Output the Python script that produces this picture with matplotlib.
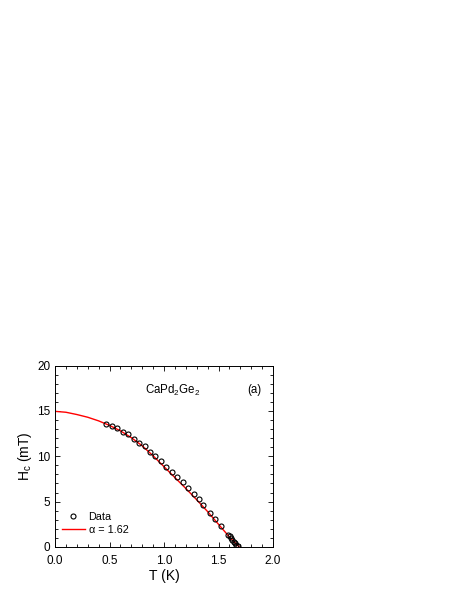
import numpy as np
import matplotlib
matplotlib.use('Agg')
import matplotlib.pyplot as plt
from matplotlib.ticker import MultipleLocator

# measured critical field
T_data = [0.465, 0.52, 0.569, 0.621, 0.673, 0.722, 0.772, 0.822, 0.872, 0.920,
          0.972, 1.021, 1.073, 1.122, 1.174, 1.223, 1.272, 1.321, 1.361, 1.422,
          1.468, 1.523, 1.590, 1.603, 1.615, 1.627, 1.639, 1.651, 1.664, 1.676]
Hc_data = [13.56, 13.35, 13.09, 12.72, 12.43, 11.91, 11.45, 11.1, 10.52, 10.04,
           9.45, 8.86, 8.31, 7.76, 7.14, 6.51, 5.85, 5.27, 4.67, 3.71,
           3.05, 2.35, 1.36, 1.17, 0.95, 0.77, 0.58, 0.40, 0.22, 0.07]

# fit curve
T_fit = [0.0, 0.1, 0.2, 0.3, 0.4, 0.5, 0.6, 0.7, 0.8, 0.9, 1.0, 1.1, 1.2, 1.3,
         1.4, 1.5, 1.6, 1.69]
Hc_fit = [14.95, 14.85, 14.6, 14.3, 13.9, 13.4, 12.8, 12.05, 11.15, 10.05, 8.85,
          7.65, 6.45, 5.2, 3.9, 2.5, 1.1, 0.0]

plt.rcParams['font.family'] = ['Liberation Sans', 'DejaVu Sans']
plt.rcParams['mathtext.fontset'] = 'custom'
plt.rcParams['mathtext.rm'] = 'Liberation Sans'
plt.rcParams['mathtext.it'] = 'Liberation Sans:italic'

fig = plt.figure(figsize=(4.57, 5.91), dpi=100)
ax = fig.add_axes([0.1204, 0.0745, 0.477, 0.307])

ax.plot(T_fit, Hc_fit, color='red', lw=1.0, label=r'α = 1.62', zorder=2)
ax.plot(T_data, Hc_data, 'o', mfc='none', mec='black', ms=3.6, mew=0.8,
        label='Data', zorder=3)

ax.set_xlim(0, 2.0)
ax.set_ylim(0, 20)
ax.xaxis.set_major_locator(MultipleLocator(0.5))
ax.xaxis.set_minor_locator(MultipleLocator(0.1))
ax.yaxis.set_major_locator(MultipleLocator(5))
ax.yaxis.set_minor_locator(MultipleLocator(1))
ax.tick_params(which='both', direction='in', top=True, right=True, labelsize=8.5, width=0.6)
ax.tick_params(which='major', length=3.5)
ax.tick_params(which='minor', length=2)
ax.tick_params(axis='x', which='major', pad=5.5)
ax.tick_params(axis='y', which='major', pad=3.5)
for s in ax.spines.values():
    s.set_linewidth(0.7)

ax.set_xlabel('T (K)', fontsize=10, labelpad=2)
ax.set_ylabel(r'H$_\mathrm{c}$ (mT)', fontsize=10, labelpad=2)

ax.text(0.54, 0.865, r'CaPd$_2$Ge$_2$', transform=ax.transAxes, fontsize=8.3,
        ha='center', va='center')
ax.text(0.915, 0.865, '(a)', transform=ax.transAxes, fontsize=8.3,
        ha='center', va='center')

h, l = ax.get_legend_handles_labels()
ax.legend(h[::-1], l[::-1], loc='lower left', bbox_to_anchor=(0.0, 0.03),
          frameon=False, fontsize=7.8, handlelength=2.2, handletextpad=0.3,
          labelspacing=0.3, borderaxespad=0.2)

fig.savefig('out.png', dpi=100)
